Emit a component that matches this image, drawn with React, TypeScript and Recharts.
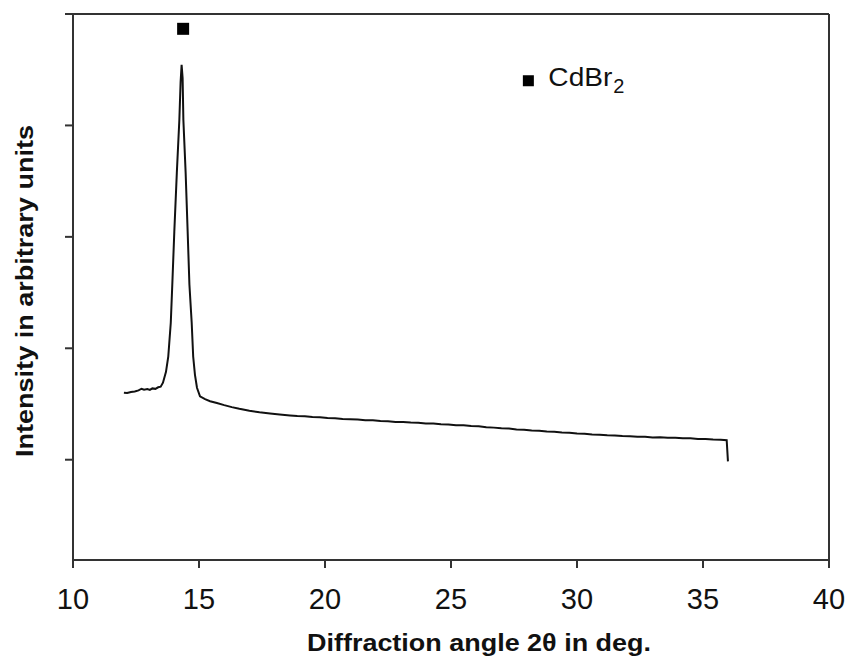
import React from "react";
import { ComposedChart, Line, Scatter, XAxis, YAxis, ReferenceLine } from "recharts";

// Diffraction angle 2θ (deg)
const angles = [
  12.02, 12.15, 12.3, 12.45, 12.6, 12.72, 12.82, 12.95, 13.05, 13.15, 13.27, 13.38, 13.48,
  13.57, 13.69, 13.78, 13.88, 13.94, 14.02, 14.12, 14.22, 14.27, 14.31, 14.35, 14.38, 14.47,
  14.55, 14.62, 14.71, 14.77, 14.84, 14.92, 15.04, 15.24, 15.44, 15.71, 16.0, 16.3, 16.6,
  17.0, 17.4, 17.82, 18.2, 18.61, 18.9, 19.2, 19.5, 19.8, 20.1, 20.4, 20.7, 21.0, 21.3, 21.6,
  21.9, 22.2, 22.5, 22.8, 23.1, 23.4, 23.7, 24.0, 24.3, 24.6, 24.9, 25.2, 25.5, 25.8, 26.1,
  26.4, 26.7, 27.0, 27.3, 27.6, 27.9, 28.2, 28.5, 28.8, 29.1, 29.4, 29.7, 30.0, 30.3, 30.6,
  30.9, 31.2, 31.5, 31.8, 32.1, 32.4, 32.7, 33.0, 33.3, 33.6, 33.9, 34.2, 34.5, 34.8, 35.1,
  35.4, 35.7, 35.94, 35.99,
];
// Intensity (arbitrary units)
const intensity = [
  1.601, 1.598, 1.608, 1.612, 1.622, 1.637, 1.628, 1.634, 1.626, 1.64, 1.636, 1.65, 1.655,
  1.691, 1.789, 1.924, 2.229, 2.57, 3.045, 3.574, 4.049, 4.39, 4.543, 4.426, 4.049, 3.574,
  3.045, 2.57, 2.229, 1.924, 1.762, 1.646, 1.568, 1.543, 1.525, 1.509, 1.49, 1.472, 1.457,
  1.44, 1.426, 1.414, 1.405, 1.397, 1.392, 1.39, 1.383, 1.381, 1.374, 1.372, 1.366, 1.364,
  1.361, 1.355, 1.354, 1.347, 1.346, 1.339, 1.338, 1.333, 1.331, 1.325, 1.325, 1.318, 1.317,
  1.31, 1.309, 1.302, 1.301, 1.292, 1.288, 1.282, 1.28, 1.272, 1.269, 1.262, 1.26, 1.253,
  1.25, 1.245, 1.242, 1.235, 1.232, 1.227, 1.225, 1.219, 1.218, 1.212, 1.21, 1.206, 1.205,
  1.2, 1.201, 1.197, 1.197, 1.192, 1.192, 1.187, 1.186, 1.181, 1.179, 1.175, 0.985,
];

const xTicks = [10, 15, 20, 25, 30, 35, 40];
const yTicks = [1, 2, 3, 4, 5];
const peakMarker = [{ x: 14.37, y: 4.867 }];
const legendMarker = [{ x: 28.07, y: 4.401 }];
const legendLabel = "CdBr";
const legendSub = "2";
const xTitle = "Diffraction angle 2\u03b8 in deg.";
const yTitle = "Intensity in arbitrary units";

const data = angles.map((x, i) => ({ x, y: intensity[i] }));

const FONT = "'Liberation Sans', Arial, sans-serif";
const AXIS = "#333";

const XTick = (props: any) => (
  <text x={props.x} y={609} textAnchor="middle" fontSize={29} fontFamily={FONT} fill="#111">
    {props.payload.value}
  </text>
);

const PeakSquare = (props: any) => (
  <rect x={props.cx - 6} y={props.cy - 6} width={12} height={12} fill="#000" />
);

const LegendSquare = (props: any) => (
  <g>
    <rect x={props.cx - 5.5} y={props.cy - 5.5} width={11} height={11} fill="#000" />
    <text x={props.cx + 20} y={props.cy + 5} fontSize={26} fontFamily={FONT} fill="#111" textLength={64} lengthAdjust="spacingAndGlyphs">
      {legendLabel}
    </text>
    <text x={props.cx + 85} y={props.cy + 12.5} fontSize={20} fontFamily={FONT} fill="#111">
      {legendSub}
    </text>
  </g>
);

const XTitle = () => (
  <text x={479} y={651} textAnchor="middle" fontSize={24} fontWeight="bold" fontFamily={FONT} fill="#111" textLength={344} lengthAdjust="spacingAndGlyphs">
    {xTitle}
  </text>
);

const YTitle = () => (
  <text transform="translate(33, 291) rotate(-90)" textAnchor="middle" fontSize={23} fontWeight="bold" fontFamily={FONT} fill="#111" textLength={332} lengthAdjust="spacingAndGlyphs">
    {yTitle}
  </text>
);

export default function App() {
  return (
    <div style={{ position: "absolute", left: 0, top: 0, width: 847, height: 657, background: "#fff" }}>
      <ComposedChart width={847} height={657} margin={{ top: 14, right: 18, bottom: 0, left: 0 }}>
        <XAxis
          type="number"
          dataKey="x"
          domain={[10, 40]}
          ticks={xTicks}
          height={97}
          stroke={AXIS}
          strokeWidth={2}
          tickSize={8}
          tickLine={{ stroke: AXIS, strokeWidth: 2 }}
          tick={<XTick />}
          label={{ content: () => <XTitle /> }}
          allowDataOverflow
        />
        <YAxis
          type="number"
          dataKey="y"
          domain={[0.1, 5]}
          ticks={yTicks}
          width={73}
          stroke={AXIS}
          strokeWidth={2}
          tickSize={8}
          tickLine={{ stroke: AXIS, strokeWidth: 2 }}
          tick={() => <g />}
          label={{ content: () => <YTitle /> }}
          allowDataOverflow
        />
        <ReferenceLine y={5} stroke={AXIS} strokeWidth={2} />
        <ReferenceLine x={40} stroke={AXIS} strokeWidth={2} />
        <Line
          data={data}
          dataKey="y"
          type="linear"
          stroke="#111"
          strokeWidth={2}
          dot={false}
          isAnimationActive={false}
        />
        <Scatter data={peakMarker} dataKey="y" shape={<PeakSquare />} isAnimationActive={false} />
        <Scatter data={legendMarker} dataKey="y" shape={<LegendSquare />} isAnimationActive={false} />
      </ComposedChart>
    </div>
  );
}
